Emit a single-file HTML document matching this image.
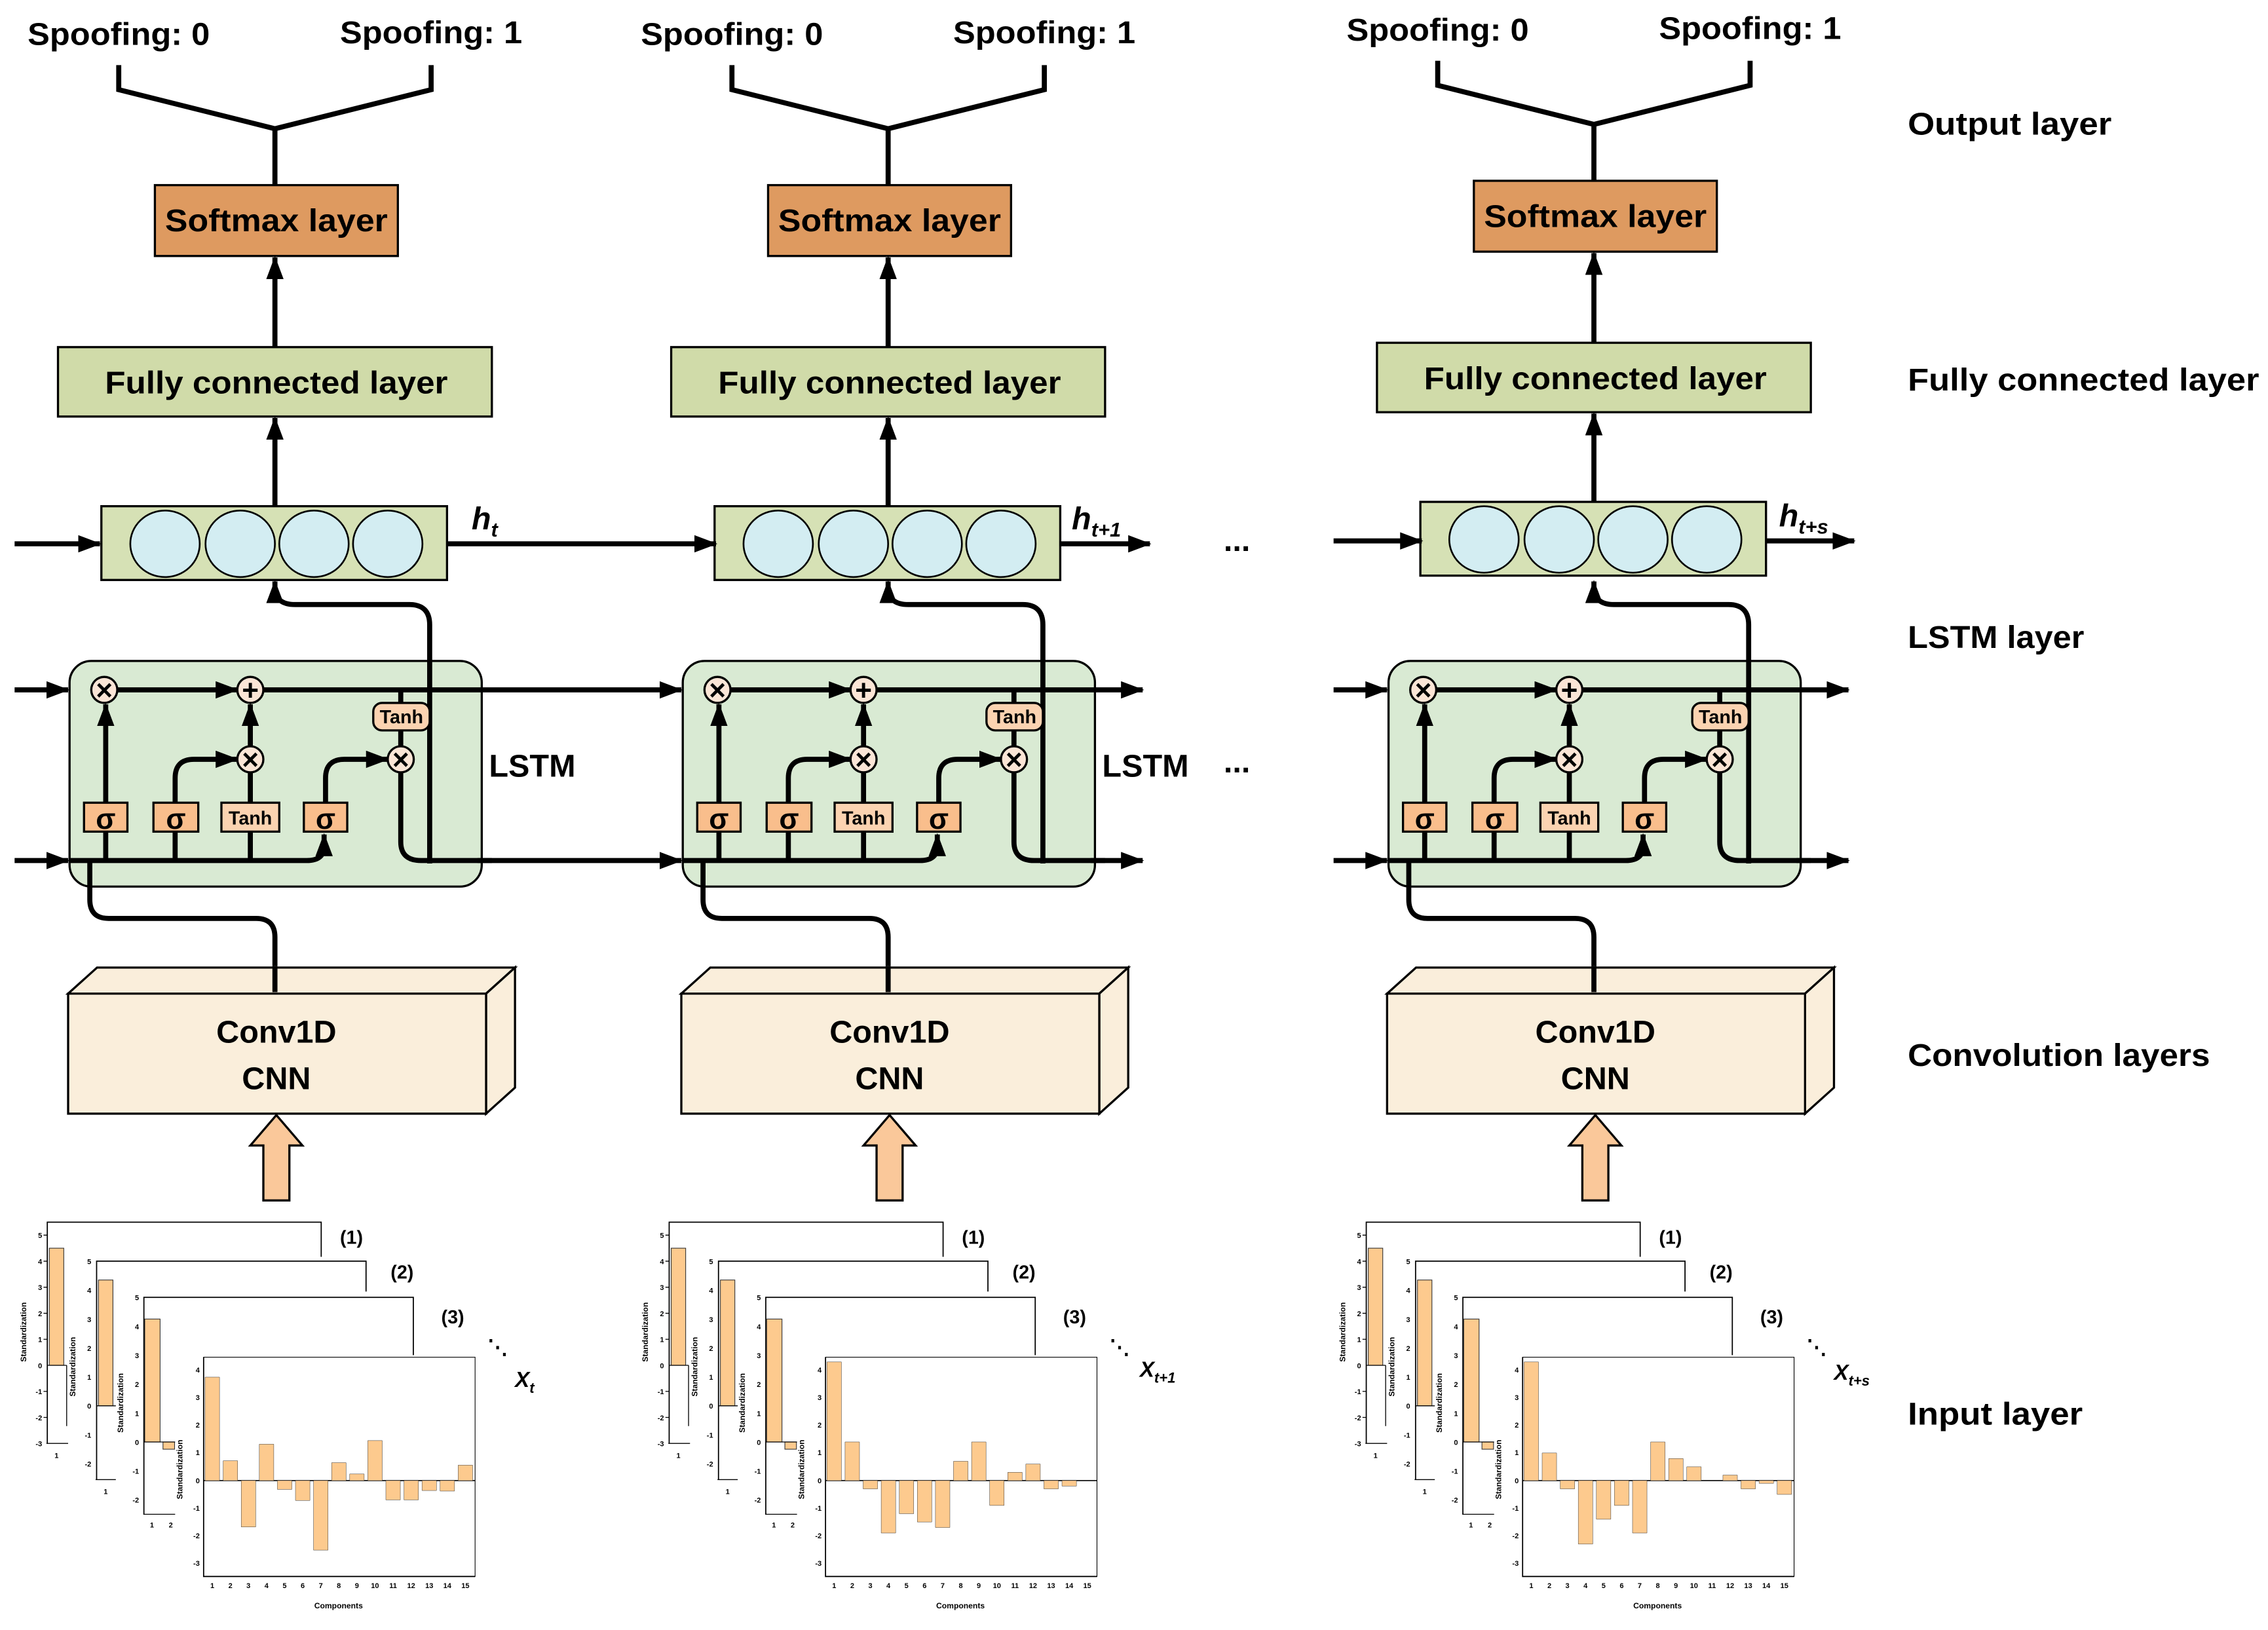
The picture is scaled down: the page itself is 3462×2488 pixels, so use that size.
<!DOCTYPE html>
<html><head><meta charset="utf-8"><style>
html,body{margin:0;padding:0;background:#fff;}
svg{display:block;}
text{font-family:"Liberation Sans",sans-serif;font-weight:bold;fill:#000;}
</style></head><body>
<svg width="3462" height="2488" viewBox="0 0 1568 1127" xmlns="http://www.w3.org/2000/svg">
<defs>
<marker id="ah" markerUnits="userSpaceOnUse" markerWidth="16" markerHeight="12" refX="15" refY="6" orient="auto"><path d="M0,0 L16,6 L0,12 Z" fill="#000"/></marker>
<g id="charts">
 <!-- chart 1 -->
 <path d="M32.6,998 V845 H222 V869" fill="none" stroke="#000" stroke-width="0.8"/>
 <rect x="34" y="863" width="10" height="81" fill="#fdca8e" stroke="#333" stroke-width="0.5"/>
 <path d="M32.6,944 H46 M46,944 V986 M30,854 H32.6 M30,872 H32.6 M30,890 H32.6 M30,908 H32.6 M30,926 H32.6 M30,962 H32.6 M30,980 H32.6 M32,998 H47" stroke="#000" stroke-width="0.6" fill="none"/>
 <g font-size="5" text-anchor="end"><text x="29" y="856">5</text><text x="29" y="874">4</text><text x="29" y="892">3</text><text x="29" y="910">2</text><text x="29" y="928">1</text><text x="29" y="946">0</text><text x="29" y="964">-1</text><text x="29" y="982">-2</text><text x="29" y="1000">-3</text></g>
 <text x="39" y="1008" font-size="5" text-anchor="middle">1</text>
 <text transform="translate(18 921) rotate(-90)" font-size="5.5" text-anchor="middle">Standardization</text>
 <!-- chart 2 -->
 <rect x="66.7" y="872" width="186.3" height="150" fill="#fff"/>
 <path d="M66.7,1023 V872 H253 V893" fill="none" stroke="#000" stroke-width="0.8"/>
 <rect x="68" y="885" width="10" height="87" fill="#fdca8e" stroke="#333" stroke-width="0.5"/>
 <path d="M66.7,972 H80 M66,1023 H80" stroke="#000" stroke-width="0.6"/>
 <g font-size="5" text-anchor="end"><text x="63" y="874">5</text><text x="63" y="894">4</text><text x="63" y="914">3</text><text x="63" y="934">2</text><text x="63" y="954">1</text><text x="63" y="974">0</text><text x="63" y="994">-1</text><text x="63" y="1014">-2</text></g>
 <text x="73" y="1033" font-size="5" text-anchor="middle">1</text>
 <text transform="translate(52 945) rotate(-90)" font-size="5.5" text-anchor="middle">Standardization</text>
 <!-- chart 3 -->
 <rect x="99.4" y="897" width="186.3" height="150" fill="#fff"/>
 <path d="M99.4,1047 V897 H285.7 V937" fill="none" stroke="#000" stroke-width="0.8"/>
 <rect x="100" y="912" width="10.6" height="85" fill="#fdca8e" stroke="#333" stroke-width="0.5"/>
 <rect x="112.6" y="997" width="8" height="5" fill="#fdca8e" stroke="#333" stroke-width="0.5"/>
 <path d="M99.4,997 H121 M99,1047 H121" stroke="#000" stroke-width="0.6"/>
 <g font-size="5" text-anchor="end"><text x="96" y="899">5</text><text x="96" y="919">4</text><text x="96" y="939">3</text><text x="96" y="959">2</text><text x="96" y="979">1</text><text x="96" y="999">0</text><text x="96" y="1019">-1</text><text x="96" y="1039">-2</text></g>
 <text x="105" y="1056" font-size="5" text-anchor="middle">1</text><text x="118" y="1056" font-size="5" text-anchor="middle">2</text>
 <text transform="translate(85 970) rotate(-90)" font-size="5.5" text-anchor="middle">Standardization</text>
 <!-- chart 4 -->
 <rect x="140.7" y="938.4" width="187.7" height="151.6" fill="#fff" stroke="#000" stroke-width="0.5"/>
 <path d="M140.7,938.4 V1090 H328.4" fill="none" stroke="#000" stroke-width="0.8"/>
 <path d="M140.7,1023.7 H328.4" stroke="#000" stroke-width="0.7"/>
 <g font-size="5" text-anchor="end"><text x="138" y="949">4</text><text x="138" y="968">3</text><text x="138" y="987">2</text><text x="138" y="1006">1</text><text x="138" y="1025.5">0</text><text x="138" y="1044.5">-1</text><text x="138" y="1063.5">-2</text><text x="138" y="1082.5">-3</text></g>
 <g font-size="5" text-anchor="middle"><text x="146.7" y="1098">1</text><text x="159.2" y="1098">2</text><text x="171.7" y="1098">3</text><text x="184.2" y="1098">4</text><text x="196.7" y="1098">5</text><text x="209.2" y="1098">6</text><text x="221.7" y="1098">7</text><text x="234.2" y="1098">8</text><text x="246.7" y="1098">9</text><text x="259.2" y="1098">10</text><text x="271.7" y="1098">11</text><text x="284.2" y="1098">12</text><text x="296.7" y="1098">13</text><text x="309.2" y="1098">14</text><text x="321.7" y="1098">15</text></g>
 <text x="234" y="1112" font-size="5.5" text-anchor="middle">Components</text>
 <text transform="translate(126 1016) rotate(-90)" font-size="5.5" text-anchor="middle">Standardization</text>
 <g font-size="13"><text x="235" y="860">(1)</text><text x="270" y="884">(2)</text><text x="305" y="915">(3)</text></g>
 <text x="337" y="936" font-size="14">⋱</text>
</g>
<g id="col">
 <path d="M82,45 V62 L190,89 L298,62 V45 M190,89 V128" fill="none" stroke="#000" stroke-width="3.5"/>
 <text x="82" y="31" font-size="22" text-anchor="middle" textLength="126" lengthAdjust="spacingAndGlyphs">Spoofing: 0</text>
 <text x="298" y="30" font-size="22" text-anchor="middle" textLength="126" lengthAdjust="spacingAndGlyphs">Spoofing: 1</text>
 <rect x="107" y="128" width="168" height="49" fill="#de9a60" stroke="#000" stroke-width="1.5"/>
 <text x="191" y="160" font-size="22" text-anchor="middle" textLength="154" lengthAdjust="spacingAndGlyphs">Softmax layer</text>
 <line x1="190" y1="240" x2="190" y2="178" stroke="#000" stroke-width="3.5" marker-end="url(#ah)"/>
 <rect x="40" y="240" width="300" height="48" fill="#d0dba9" stroke="#000" stroke-width="1.5"/>
 <text x="191" y="272" font-size="22" text-anchor="middle" textLength="237" lengthAdjust="spacingAndGlyphs">Fully connected layer</text>
 <line x1="190" y1="350" x2="190" y2="289" stroke="#000" stroke-width="3.5" marker-end="url(#ah)"/>
 <rect x="70" y="350" width="239" height="51" fill="#d6e1b5" stroke="#000" stroke-width="1.5"/>
 <g fill="#d3edf2" stroke="#000" stroke-width="1.2"><ellipse cx="114" cy="376" rx="24" ry="23"/><ellipse cx="166" cy="376" rx="24" ry="23"/><ellipse cx="217" cy="376" rx="24" ry="23"/><ellipse cx="268" cy="376" rx="24" ry="23"/></g>
</g>
<g id="cell">
 <rect x="48" y="457" width="285" height="156" rx="15" fill="#d9ead3" stroke="#000" stroke-width="1.5"/>
 <g fill="none" stroke="#000" stroke-width="3.5">
  <path d="M81,477 H164" marker-end="url(#ah)"/>
  <path d="M73,555 V487" marker-end="url(#ah)"/>
  <path d="M121,555 V538 Q121,525 134,525 H164" marker-end="url(#ah)"/>
  <path d="M173,555 V534 M173,516 V487" marker-end="url(#ah)"/>
  <path d="M225,555 V538 Q225,525 238,525 H268" marker-end="url(#ah)"/>
  <path d="M277,477 V486 M277,505 V516"/>
  <path d="M73,595 V575 M121,595 V575 M173,595 V575"/>
  <path d="M48,595 H212 Q224,595 224,585 V577" marker-end="url(#ah)"/>
  <path d="M277,534 V582 Q277,595 291,595 H340"/>
  <path d="M190,668 V648 Q190,635 177,635 H75 Q62,635 62,622 V596"/>
  <path d="M297,597 V432 Q297,418 283,418 H204 Q190,418 190,406 V402" marker-end="url(#ah)"/>
 </g>
 <g stroke="#000" stroke-width="1.5" fill="#fbe5d6"><circle cx="72" cy="477" r="9"/><circle cx="173" cy="477" r="9"/><circle cx="173" cy="525" r="9"/><circle cx="277" cy="525" r="9"/></g>
 <g font-size="20" text-anchor="middle" font-weight="bold"><text x="72" y="484">×</text><text x="173" y="484">+</text><text x="173" y="532">×</text><text x="277" y="532">×</text></g>
 <g stroke="#000" stroke-width="1.5"><rect x="58" y="555" width="30" height="20" fill="#f9be8c"/><rect x="106" y="555" width="31" height="20" fill="#f9be8c"/><rect x="153" y="555" width="40" height="20" fill="#fbd3b1"/><rect x="210" y="555" width="30" height="20" fill="#f9be8c"/><rect x="258" y="486" width="39" height="19" rx="6" fill="#fbd3b1"/></g>
 <g text-anchor="middle"><text x="73" y="573" font-size="20">σ</text><text x="121.5" y="573" font-size="20">σ</text><text x="173" y="570" font-size="13">Tanh</text><text x="225" y="573" font-size="20">σ</text><text x="277.5" y="500" font-size="13">Tanh</text></g>
 <path d="M47,687 L67,669 H356 L336,687 Z" fill="#faeedb" stroke="#000" stroke-width="1.5"/>
 <path d="M336,687 L356,669 V752 L336,770 Z" fill="#faeedb" stroke="#000" stroke-width="1.5"/>
 <rect x="47" y="687" width="289" height="83" fill="#faeedb" stroke="#000" stroke-width="1.5"/>
 <line x1="190" y1="668" x2="190" y2="686" stroke="#000" stroke-width="3.5"/>
 <text x="191" y="721" font-size="22" text-anchor="middle">Conv1D</text>
 <text x="191" y="753" font-size="22" text-anchor="middle">CNN</text>
 <path d="M182,830 H200 V792 H209 L191,771 L173,792 H182 Z" fill="#fac89a" stroke="#000" stroke-width="1.5"/>
</g>
</defs>

<!-- column 1 -->
<use href="#col"/>
<use href="#cell"/>
<use href="#charts"/>
<!-- column 2 -->
<use href="#col" x="424"/>
<use href="#cell" x="424"/>
<use href="#charts" x="430" y="0"/>
<!-- column 3 -->
<use href="#col" x="912" y="-3"/>
<use href="#cell" x="912"/>
<use href="#charts" x="912" y="0"/>

<!-- horizontal connectors -->
<g fill="none" stroke="#000" stroke-width="3.5">
 <path d="M10,376 H69" marker-end="url(#ah)"/>
 <path d="M309,376 H495" marker-end="url(#ah)"/>
 <path d="M733,376 H795" marker-end="url(#ah)"/>
 <path d="M922,374 H983" marker-end="url(#ah)"/>
 <path d="M1221,374 H1282" marker-end="url(#ah)"/>
 <path d="M10,477 H47" marker-end="url(#ah)"/>
 <path d="M182,477 H471" marker-end="url(#ah)"/>
 <path d="M606,477 H790" marker-end="url(#ah)"/>
 <path d="M922,477 H959" marker-end="url(#ah)"/>
 <path d="M1094,477 H1278" marker-end="url(#ah)"/>
 <path d="M10,595 H47" marker-end="url(#ah)"/>
 <path d="M330,595 H471" marker-end="url(#ah)"/>
 <path d="M754,595 H790" marker-end="url(#ah)"/>
 <path d="M922,595 H959" marker-end="url(#ah)"/>
 <path d="M1242,595 H1278" marker-end="url(#ah)"/>
</g>

<!-- bars -->
<g transform="translate(141.7 1023.7) scale(1 -19.08)" fill="#fdca8e" stroke="#333" stroke-width="0.5">
 <rect vector-effect="non-scaling-stroke" x="0" y="0" width="10" height="3.75"/>
 <rect vector-effect="non-scaling-stroke" x="12.5" y="0" width="10" height="0.72"/>
 <rect vector-effect="non-scaling-stroke" x="25" y="-1.68" width="10" height="1.68"/>
 <rect vector-effect="non-scaling-stroke" x="37.5" y="0" width="10" height="1.32"/>
 <rect vector-effect="non-scaling-stroke" x="50" y="-0.32" width="10" height="0.32"/>
 <rect vector-effect="non-scaling-stroke" x="62.5" y="-0.72" width="10" height="0.72"/>
 <rect vector-effect="non-scaling-stroke" x="75" y="-2.52" width="10" height="2.52"/>
 <rect vector-effect="non-scaling-stroke" x="87.5" y="0" width="10" height="0.65"/>
 <rect vector-effect="non-scaling-stroke" x="100" y="0" width="10" height="0.24"/>
 <rect vector-effect="non-scaling-stroke" x="112.5" y="0" width="10" height="1.45"/>
 <rect vector-effect="non-scaling-stroke" x="125" y="-0.7" width="10" height="0.7"/>
 <rect vector-effect="non-scaling-stroke" x="137.5" y="-0.7" width="10" height="0.7"/>
 <rect vector-effect="non-scaling-stroke" x="150" y="-0.36" width="10" height="0.36"/>
 <rect vector-effect="non-scaling-stroke" x="162.5" y="-0.38" width="10" height="0.38"/>
 <rect vector-effect="non-scaling-stroke" x="175" y="0" width="10" height="0.56"/>
</g>
<g transform="translate(571.7 1023.7) scale(1 -19.08)" fill="#fdca8e" stroke="#333" stroke-width="0.5">
 <rect vector-effect="non-scaling-stroke" x="0" y="0" width="10" height="4.3"/>
 <rect vector-effect="non-scaling-stroke" x="12.5" y="0" width="10" height="1.4"/>
 <rect vector-effect="non-scaling-stroke" x="25" y="-0.3" width="10" height="0.3"/>
 <rect vector-effect="non-scaling-stroke" x="37.5" y="-1.9" width="10" height="1.9"/>
 <rect vector-effect="non-scaling-stroke" x="50" y="-1.2" width="10" height="1.2"/>
 <rect vector-effect="non-scaling-stroke" x="62.5" y="-1.5" width="10" height="1.5"/>
 <rect vector-effect="non-scaling-stroke" x="75" y="-1.7" width="10" height="1.7"/>
 <rect vector-effect="non-scaling-stroke" x="87.5" y="0" width="10" height="0.7"/>
 <rect vector-effect="non-scaling-stroke" x="100" y="0" width="10" height="1.4"/>
 <rect vector-effect="non-scaling-stroke" x="112.5" y="-0.9" width="10" height="0.9"/>
 <rect vector-effect="non-scaling-stroke" x="125" y="0" width="10" height="0.3"/>
 <rect vector-effect="non-scaling-stroke" x="137.5" y="0" width="10" height="0.6"/>
 <rect vector-effect="non-scaling-stroke" x="150" y="-0.3" width="10" height="0.3"/>
 <rect vector-effect="non-scaling-stroke" x="162.5" y="-0.2" width="10" height="0.2"/>
</g>
<g transform="translate(1053.7 1023.7) scale(1 -19.08)" fill="#fdca8e" stroke="#333" stroke-width="0.5">
 <rect vector-effect="non-scaling-stroke" x="0" y="0" width="10" height="4.3"/>
 <rect vector-effect="non-scaling-stroke" x="12.5" y="0" width="10" height="1.0"/>
 <rect vector-effect="non-scaling-stroke" x="25" y="-0.3" width="10" height="0.3"/>
 <rect vector-effect="non-scaling-stroke" x="37.5" y="-2.3" width="10" height="2.3"/>
 <rect vector-effect="non-scaling-stroke" x="50" y="-1.4" width="10" height="1.4"/>
 <rect vector-effect="non-scaling-stroke" x="62.5" y="-0.9" width="10" height="0.9"/>
 <rect vector-effect="non-scaling-stroke" x="75" y="-1.9" width="10" height="1.9"/>
 <rect vector-effect="non-scaling-stroke" x="87.5" y="0" width="10" height="1.4"/>
 <rect vector-effect="non-scaling-stroke" x="100" y="0" width="10" height="0.8"/>
 <rect vector-effect="non-scaling-stroke" x="112.5" y="0" width="10" height="0.5"/>
 <rect vector-effect="non-scaling-stroke" x="137.5" y="0" width="10" height="0.2"/>
 <rect vector-effect="non-scaling-stroke" x="150" y="-0.3" width="10" height="0.3"/>
 <rect vector-effect="non-scaling-stroke" x="162.5" y="-0.1" width="10" height="0.1"/>
 <rect vector-effect="non-scaling-stroke" x="175" y="-0.5" width="10" height="0.5"/>
</g>

<!-- labels -->
<g font-style="italic">
 <text x="326" y="366" font-size="22">h<tspan font-size="14" dy="5">t</tspan></text>
 <text x="741" y="366" font-size="22">h<tspan font-size="14" dy="5">t+1</tspan></text>
 <text x="1230" y="364" font-size="22">h<tspan font-size="14" dy="5">t+s</tspan></text>
 <text x="356" y="959" font-size="15" font-weight="normal">X<tspan font-size="10" dy="4">t</tspan></text>
 <text x="788" y="952" font-size="15" font-weight="normal">X<tspan font-size="10" dy="4">t+1</tspan></text>
 <text x="1268" y="954" font-size="15" font-weight="normal">X<tspan font-size="10" dy="4">t+s</tspan></text>
</g>
<g font-size="22">
 <text x="338" y="537">LSTM</text>
 <text x="762" y="537">LSTM</text>
 <text x="846" y="381">...</text>
 <text x="846" y="534">...</text>
 <text x="1319" y="93" textLength="141" lengthAdjust="spacingAndGlyphs">Output layer</text>
 <text x="1319" y="270" textLength="243" lengthAdjust="spacingAndGlyphs">Fully  connected layer</text>
 <text x="1319" y="448" textLength="122" lengthAdjust="spacingAndGlyphs">LSTM layer</text>
 <text x="1319" y="737" textLength="209" lengthAdjust="spacingAndGlyphs">Convolution layers</text>
 <text x="1319" y="985" textLength="121" lengthAdjust="spacingAndGlyphs">Input layer</text>
</g>
</svg>
</body></html>
